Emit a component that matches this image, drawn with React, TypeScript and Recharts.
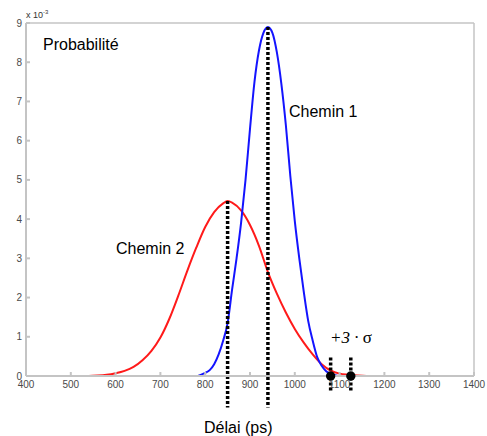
import {
  LineChart,
  Line,
  XAxis,
  YAxis,
  ReferenceLine,
  ReferenceDot,
} from "recharts";

// delays in ps, probabilities in units of 1e-3
const redDelay = [400, 540, 560, 580, 600, 620, 640, 660, 680, 700, 720, 740, 760, 780, 800, 820, 840, 850, 860, 880, 900, 920, 940, 960, 980, 1000, 1020, 1040, 1060, 1080, 1100, 1120, 1140, 1160, 1400];
const redProb = [0, 0, 0.01, 0.03, 0.07, 0.13, 0.23, 0.4, 0.64, 0.98, 1.46, 2.05, 2.68, 3.27, 3.8, 4.18, 4.4, 4.46, 4.42, 4.22, 3.85, 3.32, 2.65, 2.1, 1.62, 1.2, 0.85, 0.55, 0.3, 0.14, 0.06, 0.03, 0.01, 0, 0];

const blueDelay = [400, 780, 790, 800, 810, 820, 830, 840, 850, 860, 870, 880, 890, 900, 910, 920, 930, 940, 950, 960, 970, 980, 990, 1000, 1010, 1020, 1030, 1040, 1050, 1060, 1070, 1080, 1090, 1100, 1400];
const blueProb = [0, 0, 0.03, 0.08, 0.15, 0.3, 0.55, 0.9, 1.35, 2.2, 3.0, 3.9, 5.0, 6.3, 7.5, 8.3, 8.75, 8.9, 8.75, 8.25, 7.45, 6.4, 5.1, 3.95, 3.0, 2.15, 1.4, 0.9, 0.48, 0.26, 0.12, 0.05, 0.02, 0, 0];

const xTicks = [400, 500, 600, 700, 800, 900, 1000, 1100, 1200, 1300, 1400];
const yTicks = [0, 1, 2, 3, 4, 5, 6, 7, 8, 9];

// vertical markers: mean of each path, and the +3 sigma points
const meanRed = { x: 850, y: 4.46 };
const meanBlue = { x: 940, y: 8.9 };
const sigmaPoints = [1080, 1125];

const redData = redDelay.map((x, i) => ({ x, p: redProb[i] }));
const blueData = blueDelay.map((x, i) => ({ x, p: blueProb[i] }));

const axisGray = "#c4c4c4";
const tickText = { fontSize: 10, fill: "#4a4a4a", fontFamily: "Liberation Sans, Arial" };
const label = { position: "absolute" as const, fontFamily: "Liberation Sans, Arial", fontSize: 16, color: "#000", whiteSpace: "nowrap" as const, lineHeight: 1 };

export default function App() {
  return (
    <div style={{ position: "absolute", left: 0, top: 0, width: 487, height: 436, background: "#fff" }}>
      <LineChart width={487} height={436} margin={{ top: 22, right: 12, bottom: 40, left: 6 }}>
        <XAxis
          xAxisId="b"
          dataKey="x"
          type="number"
          domain={[400, 1400]}
          ticks={xTicks}
          height={20}
          stroke={axisGray}
          strokeWidth={2}
          tickSize={-4}
          tickMargin={9}
          tick={tickText}
          interval={0}
          allowDataOverflow
        />
        <XAxis
          xAxisId="t"
          orientation="top"
          dataKey="x"
          type="number"
          domain={[400, 1400]}
          ticks={xTicks}
          height={1}
          stroke={axisGray}
          strokeWidth={1.5}
          tickSize={-4}
          tick={false}
        />
        <YAxis
          yAxisId="l"
          type="number"
          domain={[0, 9]}
          ticks={yTicks}
          width={20}
          stroke={axisGray}
          strokeWidth={2}
          tickSize={-4}
          tickMargin={8}
          tick={tickText}
          interval={0}
        />
        <YAxis
          yAxisId="r"
          orientation="right"
          type="number"
          domain={[0, 9]}
          ticks={yTicks}
          width={1}
          stroke={axisGray}
          strokeWidth={1.5}
          tickSize={-4}
          tick={false}
        />
        <Line
          xAxisId="b"
          yAxisId="l"
          data={redData}
          dataKey="p"
          type="monotone"
          stroke="#ff1a1a"
          strokeWidth={2}
          dot={false}
          isAnimationActive={false}
        />
        <Line
          xAxisId="b"
          yAxisId="l"
          data={blueData}
          dataKey="p"
          type="monotone"
          stroke="#1414ff"
          strokeWidth={2}
          dot={false}
          isAnimationActive={false}
        />
        {[meanRed, meanBlue].map((m) => (
          <ReferenceLine
            key={m.x}
            xAxisId="b"
            yAxisId="l"
            segment={[{ x: m.x, y: m.y }, { x: m.x, y: -0.8 }]}
            stroke="#000"
            strokeWidth={3.5}
            strokeDasharray="3 2"
            ifOverflow="visible"
          />
        ))}
        {sigmaPoints.map((x) => (
          <ReferenceLine
            key={"s" + x}
            xAxisId="b"
            yAxisId="l"
            segment={[{ x, y: 0.47 }, { x, y: -0.42 }]}
            stroke="#000"
            strokeWidth={3.5}
            strokeDasharray="3 2"
            ifOverflow="visible"
          />
        ))}
        {sigmaPoints.map((x) => (
          <ReferenceDot
            key={"d" + x}
            xAxisId="b"
            yAxisId="l"
            x={x}
            y={0}
            r={4.7}
            fill="#000"
            stroke="none"
            ifOverflow="visible"
          />
        ))}
      </LineChart>
      <div style={{ ...label, left: 26, top: 9, fontSize: 9, color: "#333" }}>
        x 10<sup style={{ fontSize: 6, verticalAlign: "4px" }}>-3</sup>
      </div>
      <div style={{ ...label, left: 43, top: 37 }}>Probabilité</div>
      <div style={{ ...label, left: 289, top: 104 }}>Chemin 1</div>
      <div style={{ ...label, left: 116, top: 241 }}>Chemin 2</div>
      <div style={{ ...label, left: 330, top: 329, fontFamily: "'Liberation Serif', serif", fontStyle: "italic", fontSize: 17 }}>
        +3 · <span style={{ fontStyle: "normal" }}>σ</span>
      </div>
      <div style={{ ...label, left: 204, top: 420 }}>Délai (ps)</div>
    </div>
  );
}
